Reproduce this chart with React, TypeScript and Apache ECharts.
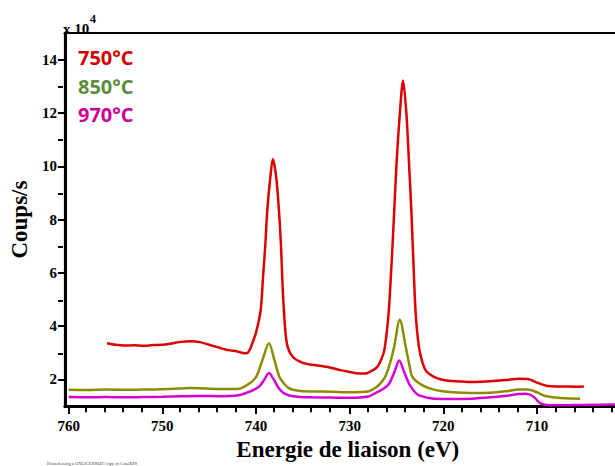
import { useEffect, useRef } from 'react';
import * as echarts from 'echarts';

// Binding energy (eV) / counts (x 10^4)
const series750: number[][] = [
  [755.9, 3.36], [755.0, 3.30], [754.0, 3.27], [753.0, 3.28], [752.0, 3.26], [751.0, 3.29],
  [750.0, 3.30], [749.0, 3.35], [748.0, 3.41], [747.0, 3.43], [746.0, 3.40], [745.0, 3.30],
  [744.0, 3.20], [743.0, 3.10], [742.0, 3.05], [741.5, 3.00], [741.0, 2.98], [740.7, 3.09],
  [740.4, 3.35], [740.0, 3.75], [739.5, 4.60], [739.25, 5.84], [739.0, 7.08], [738.8, 8.33],
  [738.47, 9.58], [738.2, 10.27], [737.84, 9.58], [737.55, 8.33], [737.34, 7.08], [737.2, 5.84],
  [737.02, 4.58], [736.7, 3.34], [736.06, 2.84], [735.0, 2.62], [734.0, 2.55], [733.0, 2.50],
  [732.0, 2.44], [731.0, 2.35], [730.0, 2.28], [729.0, 2.22], [728.5, 2.22], [728.0, 2.26],
  [727.2, 2.42], [726.8, 2.62], [726.3, 3.10], [725.85, 4.46], [725.53, 6.33], [725.26, 8.21],
  [725.0, 10.08], [724.65, 11.95], [724.3, 13.22], [723.94, 11.95], [723.66, 10.08], [723.4, 8.21],
  [723.19, 6.33], [722.95, 4.46], [722.6, 3.21], [722.2, 2.60], [721.8, 2.30], [721.0, 2.10],
  [720.0, 1.98], [719.0, 1.94], [718.0, 1.92], [717.0, 1.90], [716.0, 1.91], [715.0, 1.93],
  [714.0, 1.96], [713.0, 1.99], [712.0, 2.03], [711.0, 2.02], [710.0, 1.88], [709.0, 1.76],
  [708.0, 1.74], [707.0, 1.74], [706.0, 1.73], [705.0, 1.74],
];

const series850: number[][] = [
  [760.0, 1.61], [758.0, 1.60], [756.0, 1.62], [754.0, 1.61], [752.0, 1.62], [750.0, 1.63],
  [748.0, 1.66], [747.0, 1.68], [746.0, 1.67], [744.0, 1.64], [742.0, 1.64], [741.0, 1.78],
  [740.0, 2.09], [739.33, 2.71], [738.62, 3.36], [738.02, 2.71], [737.49, 2.09], [736.9, 1.80],
  [736.43, 1.66], [735.5, 1.58], [734.0, 1.55], [732.0, 1.54], [730.0, 1.52], [728.0, 1.55],
  [727.2, 1.70], [726.6, 1.90], [726.14, 2.15], [725.7, 2.60], [725.26, 3.21], [724.65, 4.24],
  [724.01, 3.21], [723.6, 2.50], [723.3, 2.09], [722.23, 1.78], [720.8, 1.60], [719.0, 1.52],
  [717.0, 1.49], [715.0, 1.50], [713.0, 1.57], [712.0, 1.62], [711.0, 1.62], [710.0, 1.52],
  [709.3, 1.40], [708.0, 1.32], [707.0, 1.29], [705.4, 1.28],
];

const series970: number[][] = [
  [760.0, 1.34], [758.0, 1.33], [756.0, 1.34], [754.0, 1.33], [752.0, 1.34], [750.0, 1.35],
  [748.0, 1.37], [746.0, 1.38], [744.0, 1.37], [742.0, 1.40], [741.0, 1.50], [740.2, 1.62],
  [739.62, 1.75], [739.1, 2.00], [738.62, 2.24], [738.1, 2.00], [737.66, 1.72], [737.1, 1.50],
  [736.43, 1.40], [735.5, 1.35], [734.0, 1.33], [732.0, 1.32], [730.0, 1.31], [728.0, 1.36],
  [727.2, 1.50], [726.4, 1.65], [725.79, 1.84], [725.2, 2.30], [724.72, 2.71], [724.2, 2.30],
  [723.66, 1.84], [723.1, 1.55], [722.6, 1.40], [721.0, 1.28], [719.0, 1.27], [717.0, 1.28],
  [715.0, 1.33], [713.0, 1.40], [712.0, 1.45], [711.2, 1.46], [710.4, 1.36], [709.7, 1.12],
  [709.0, 1.04], [708.0, 1.03], [706.0, 1.04], [704.0, 1.05], [702.0, 1.06], [701.6, 1.06],
];

const legendLabels = ['750°C', '850°C', '970°C'];
const xMajorTicks = [700, 710, 720, 730, 740, 750, 760];
const xTickLabels = [710, 720, 730, 740, 750, 760];
const xMinorTicks = [702, 704, 706, 708, 712, 714, 716, 718, 722, 724, 726, 728, 732, 734, 736, 738, 742, 744, 746, 748, 752, 754, 756, 758];
const yMajorTicks = [2, 4, 6, 8, 10, 12, 14];
const yMinorTicks = [3, 5, 7, 9, 11, 13];

const lineColors = ['#dd0000', '#8c8c00', '#d400d4'];
const legendColors = ['#d40000', '#5b8c3a', '#cc0099'];

const SERIF = 'Liberation Serif';

export default function App() {
  const ref = useRef<HTMLDivElement>(null);
  useEffect(() => {
    if (!ref.current) return;
    const chart = echarts.init(ref.current, undefined, { renderer: 'svg' });
    const gridGeom = { left: 63, top: 33, width: 567.7, height: 374.3 };
    const xRange = { min: 700, max: 760.4 };
    const yRange = { min: 1, max: 15 };
    const labelStyle = { fontFamily: SERIF, fontWeight: 'bold' as const, fontSize: 15, color: '#000' };
    chart.setOption({
      animation: false,
      grid: [
        { ...gridGeom, show: true, borderColor: '#000', borderWidth: 2, backgroundColor: 'transparent' },
        { ...gridGeom, show: false },
      ],
      xAxis: [
        {
          type: 'value', gridIndex: 0, inverse: true, ...xRange,
          name: 'Energie de liaison (eV)', nameLocation: 'middle', nameGap: 27,
          nameTextStyle: { fontFamily: SERIF, fontWeight: 'bold', fontSize: 23, color: '#000' },
          axisLine: { show: true, lineStyle: { color: '#000', width: 3 } },
          axisTick: { show: true, customValues: xMajorTicks, length: 8, lineStyle: { color: '#000', width: 2 } },
          axisLabel: { show: true, customValues: xTickLabels, margin: 12, ...labelStyle, formatter: (v: number) => String(Math.round(v)) },
          splitLine: { show: false },
        },
        {
          type: 'value', gridIndex: 1, inverse: true, ...xRange,
          axisLine: { show: false },
          axisTick: { show: true, customValues: xMinorTicks, length: 5, lineStyle: { color: '#000', width: 2 } },
          axisLabel: { show: false },
          splitLine: { show: false },
        },
      ],
      yAxis: [
        {
          type: 'value', gridIndex: 0, ...yRange,
          name: 'Coups/s', nameLocation: 'middle', nameGap: 27, nameRotate: 90,
          nameTextStyle: { fontFamily: SERIF, fontWeight: 'bold', fontSize: 23, color: '#000' },
          axisLine: { show: true, lineStyle: { color: '#000', width: 3 } },
          axisTick: { show: true, customValues: yMajorTicks, length: 7, lineStyle: { color: '#000', width: 2 } },
          axisLabel: { show: true, customValues: yMajorTicks, margin: 8, ...labelStyle, padding: [0, 0, 5, 0] },
          splitLine: { show: false },
        },
        {
          type: 'value', gridIndex: 1, ...yRange,
          axisLine: { show: false },
          axisTick: { show: true, customValues: yMinorTicks, length: 5, lineStyle: { color: '#000', width: 2 } },
          axisLabel: { show: false },
          splitLine: { show: false },
        },
      ],
      series: [series750, series850, series970].map((d, i) => ({
        type: 'line',
        name: legendLabels[i],
        xAxisIndex: 0,
        yAxisIndex: 0,
        data: d,
        showSymbol: false,
        symbol: 'none',
        smooth: 0.3,
        lineStyle: { color: lineColors[i], width: 2.5 },
        itemStyle: { color: lineColors[i] },
        z: 3 - i,
      })),
      graphic: [
        ...legendLabels.map((t, i) => ({
          type: 'text',
          x: 78,
          y: 57.5 + i * 28.7,
          z: 10,
          style: { text: t, fill: legendColors[i], fontFamily: 'Open Sans', fontWeight: 'bold', fontSize: 20, verticalAlign: 'middle', align: 'left' },
        })),
        {
          type: 'text', x: 63, y: 36, z: 10,
          style: { text: 'x 10', fill: '#000', fontFamily: SERIF, fontWeight: 'bold', fontSize: 15, verticalAlign: 'bottom', align: 'left' },
        },
        {
          type: 'text', x: 90, y: 25, z: 10,
          style: { text: '4', fill: '#000', fontFamily: SERIF, fontWeight: 'bold', fontSize: 12, verticalAlign: 'bottom', align: 'left' },
        },
        {
          type: 'text', x: 47, y: 463, z: 10,
          style: { text: 'Printed using a UNLICENSED Copy of CasaXPS', fill: '#444', fontFamily: SERIF, fontSize: 4.5, verticalAlign: 'middle', align: 'left' },
        },
      ],
    });
    return () => chart.dispose();
  }, []);
  return (
    <div style={{ position: 'fixed', left: 0, top: 0, width: 615, height: 466, overflow: 'hidden', background: '#fff' }}>
      <div ref={ref} style={{ width: 660, height: 466 }} />
    </div>
  );
}
